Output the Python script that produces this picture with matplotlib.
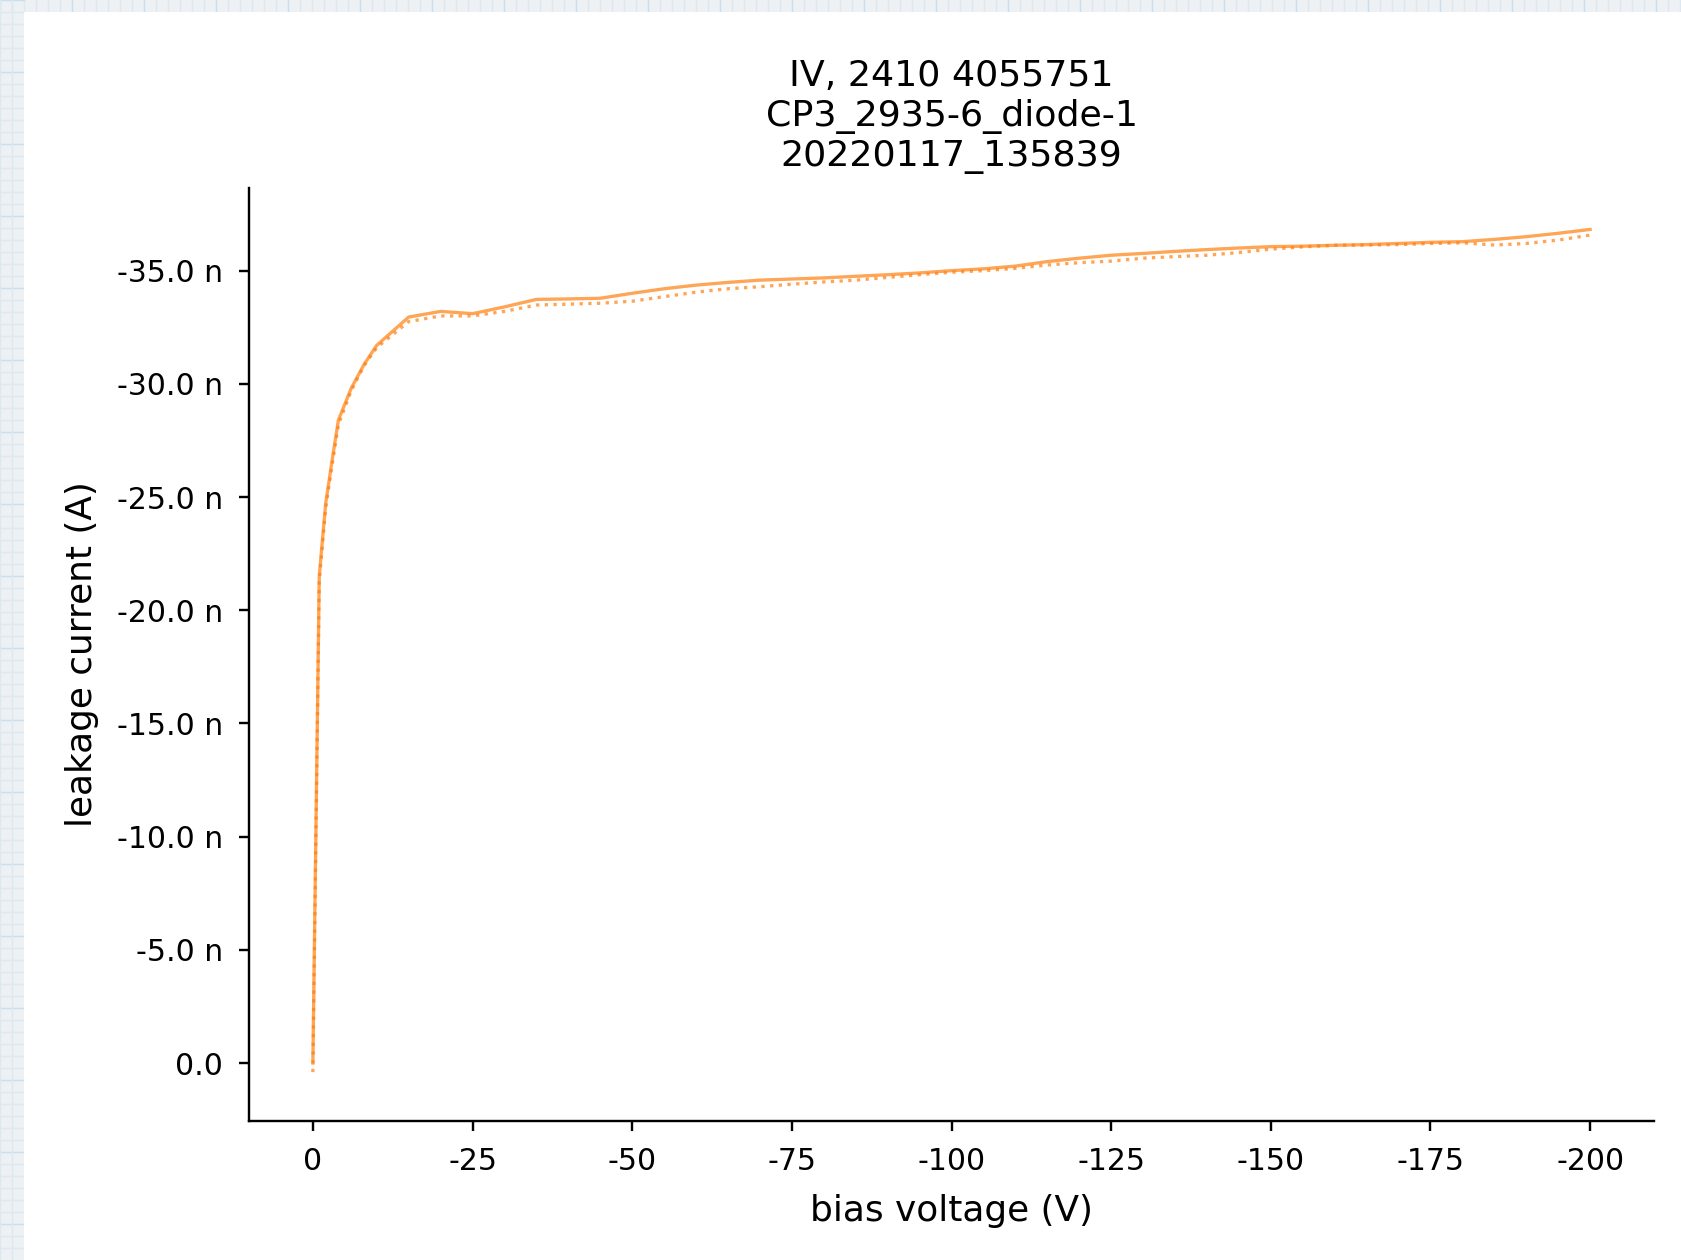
import numpy as np
import matplotlib
matplotlib.use('Agg')
import matplotlib.pyplot as plt
from matplotlib.ticker import EngFormatter, MultipleLocator
from matplotlib.patches import Rectangle
from matplotlib.lines import Line2D

plt.rcParams['axes.unicode_minus'] = False

# bias voltage steps (V)
voltage = [0, -1, -2, -3, -4, -6, -8, -10, -15, -20, -25, -30, -35, -40, -45,
           -50, -55, -60, -65, -70, -75, -80, -85, -90, -95, -100, -105, -110,
           -115, -120, -125, -130, -135, -140, -145, -150, -155, -160, -165,
           -170, -175, -180, -185, -190, -195, -200]

# leakage current, nA (first sweep, solid)
current_a = [0.0, -21.5, -24.7, -26.6, -28.4, -29.8, -30.85, -31.7, -32.95,
             -33.2, -33.1, -33.4, -33.73, -33.75, -33.78, -34.0, -34.2, -34.36,
             -34.48, -34.58, -34.63, -34.68, -34.75, -34.82, -34.9, -35.0,
             -35.08, -35.2, -35.4, -35.55, -35.68, -35.76, -35.85, -35.93,
             -36.0, -36.06, -36.08, -36.12, -36.15, -36.2, -36.25, -36.28,
             -36.38, -36.5, -36.65, -36.82]

# leakage current, nA (second sweep, dotted)
current_b = [0.4, -21.3, -24.5, -26.4, -28.2, -29.7, -30.8, -31.6, -32.75,
             -33.0, -33.0, -33.2, -33.48, -33.52, -33.56, -33.65, -33.85,
             -34.05, -34.2, -34.29, -34.4, -34.5, -34.58, -34.7, -34.82, -34.93,
             -35.0, -35.1, -35.25, -35.35, -35.42, -35.55, -35.62, -35.68,
             -35.8, -35.95, -36.05, -36.12, -36.13, -36.15, -36.2, -36.23,
             -36.13, -36.2, -36.35, -36.57]

W, H, DPI = 1681, 1260, 215
fig = plt.figure(figsize=(W / DPI, H / DPI), dpi=DPI, facecolor='#eef1f3')

# screenshot backdrop: grid paper strip and white card (behind the axes)
for xp in range(0, W, 12):
    c = '#c9dff0' if xp % 72 == 0 else '#dde8f0'
    fig.add_artist(Line2D([xp / W, xp / W], [1 - 12 / H, 1], color=c, lw=0.5,
                          zorder=-2))
for yp in range(0, H, 12):
    c = '#c9dff0' if yp % 72 == 0 else '#dde8f0'
    fig.add_artist(Line2D([0, 24 / W], [1 - yp / H, 1 - yp / H], color=c,
                          lw=0.5, zorder=-2))
for xp in range(0, 24, 12):
    fig.add_artist(Line2D([xp / W, xp / W], [0, 1], color='#dde8f0', lw=0.5,
                          zorder=-2))
fig.add_artist(Rectangle((24 / W, 0), 1, 1 - 12 / H, transform=fig.transFigure,
                         facecolor='white', edgecolor='none', zorder=-1))

ax = fig.add_axes([249 / W, 1 - 1121 / H, (1654 - 249) / W, (1121 - 188) / H])

v = np.array(voltage)
ax.plot(v, np.array(current_a) * 1e-9, color='#ff7f0e', lw=1.1, alpha=0.7)
ax.plot(v, np.array(current_b) * 1e-9, color='#ff7f0e', lw=1.1, alpha=0.7,
        linestyle=':')

ax.set_xlim(10, -210)
ax.set_ylim(2.56e-9, -38.65e-9)
ax.xaxis.set_major_locator(MultipleLocator(25))
ax.yaxis.set_major_locator(MultipleLocator(5e-9))
ax.yaxis.set_major_formatter(EngFormatter(places=1, sep=' '))
ax.tick_params(pad=5.3)

ax.spines['top'].set_visible(False)
ax.spines['right'].set_visible(False)

ax.set_xlabel('bias voltage (V)', fontsize=12, labelpad=5.8)
ax.set_ylabel('leakage current (A)', fontsize=12, labelpad=5.8)
ax.set_title('IV, 2410 4055751\nCP3_2935-6_diode-1\n20220117_135839',
             fontsize=12.2, pad=7.4)

fig.savefig('out.png', dpi=DPI, facecolor=fig.get_facecolor())
